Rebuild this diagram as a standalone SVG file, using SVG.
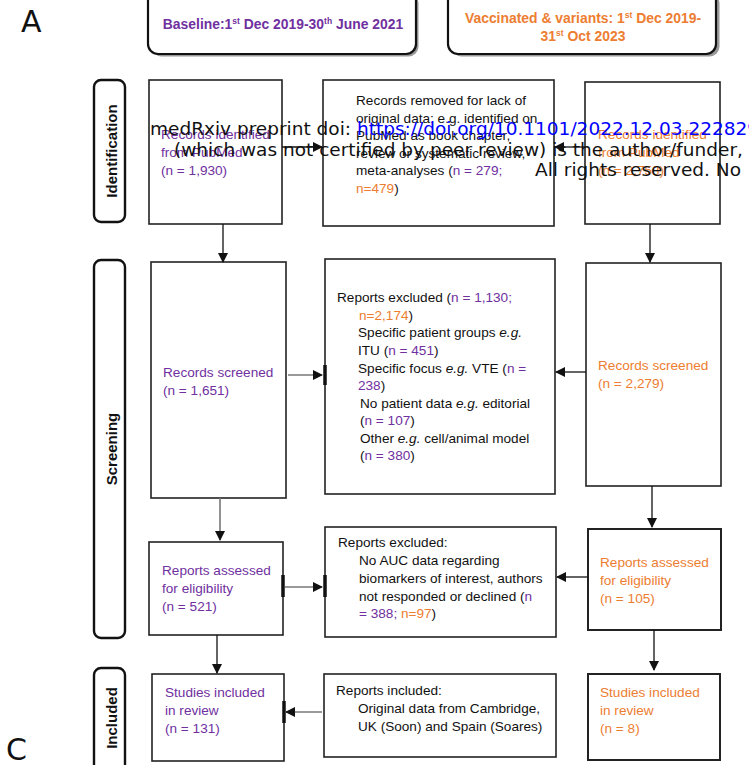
<svg xmlns="http://www.w3.org/2000/svg" width="749" height="765" viewBox="0 0 749 765">
<style>
text{font-family:"Liberation Sans",Arial,sans-serif;font-size:13.6px;fill:#111}
.p{fill:#7030A0}
.o{fill:#ED7D31}
.box{fill:#fff;stroke:#222;stroke-width:1.6}
.hdr{fill:#fff;stroke:#111;stroke-width:2.2}
.side{fill:#fff;stroke:#111;stroke-width:2.4}
.sidet{font-weight:bold;font-size:15px;fill:#111}
.hb{font-weight:bold;font-size:13.9px}
.wm{font-family:"DejaVu Sans",sans-serif;font-size:18.5px;fill:#111}
.big{font-family:"DejaVu Sans",sans-serif;font-size:30px;fill:#111}
.k{stroke:#111;stroke-width:1.3;fill:none}
.g{stroke:#777;stroke-width:1.6;fill:none}
.bar{stroke:#111;stroke-width:3.5}
</style>
<defs>
<marker id="ah" markerWidth="10" markerHeight="10" refX="9" refY="5" orient="auto" markerUnits="userSpaceOnUse">
<path d="M0,0 L10,5 L0,10 z" fill="#111"/>
</marker>
</defs>
<rect width="749" height="765" fill="#fff"/>
<text class="big" x="21" y="32">A</text>
<text class="big" x="6" y="760">C</text>

<g id="hdr-baseline">
<rect x="150" y="-8" width="267" height="63" rx="10" fill="#999" transform="translate(1.5,1.5)"/>
<rect class="hdr" x="148" y="-10" width="268" height="64" rx="10"/>
<text class="hb p" x="283" y="29" text-anchor="middle">Baseline:1<tspan font-size="8.5" dy="-5">st</tspan><tspan dy="5"> Dec 2019-30</tspan><tspan font-size="8.5" dy="-5">th</tspan><tspan dy="5"> June 2021</tspan></text>
</g>
<g id="hdr-vacc">
<rect x="450" y="-8" width="268" height="63" rx="10" fill="#999" transform="translate(1.5,1.5)"/>
<rect class="hdr" x="448" y="-10" width="268" height="64" rx="10"/>
<text class="hb o" x="583" y="23" text-anchor="middle">Vaccinated &amp; variants: 1<tspan font-size="8.5" dy="-5">st</tspan><tspan dy="5"> Dec 2019-</tspan></text>
<text class="hb o" x="583" y="41" text-anchor="middle">31<tspan font-size="8.5" dy="-5">st</tspan><tspan dy="5"> Oct 2023</tspan></text>
</g>

<g id="side-identification">
<rect class="side" x="94" y="80" width="31" height="142" rx="7"/>
<text class="sidet" transform="translate(116.5,151) rotate(-90)" text-anchor="middle">Identification</text>
</g>
<g id="side-screening">
<rect class="side" x="94" y="260" width="31" height="378" rx="7"/>
<text class="sidet" transform="translate(116.5,449) rotate(-90)" text-anchor="middle">Screening</text>
</g>
<g id="side-included">
<rect class="side" x="94" y="668" width="31" height="110" rx="7"/>
<text class="sidet" transform="translate(116.5,718) rotate(-90)" text-anchor="middle">Included</text>
</g>

<g id="id-left">
<rect class="box" x="149" y="80" width="133" height="144"/>
<text class="p" x="161" y="139">Records identified</text>
<text class="p" x="161" y="157">from PubMed</text>
<text class="p" x="161" y="175">(n = 1,930)</text>
</g>
<g id="id-mid">
<rect class="box" x="323" y="80" width="231" height="146"/>
<text x="356" y="105">Records removed for lack of</text>
<text x="356" y="123">original data; e.g. identified on</text>
<text x="356" y="140">PubMed as book chapter,</text>
<text x="356" y="158">review or systematic review,</text>
<text x="356" y="175">meta-analyses (<tspan class="p">n = 279;</tspan></text>
<text x="356" y="193"><tspan class="o">n=479</tspan>)</text>
</g>
<g id="id-right">
<rect class="box" x="585" y="82" width="135" height="142"/>
<text class="o" x="598" y="139">Records identified</text>
<text class="o" x="598" y="157">from PubMed</text>
<text class="o" x="598" y="175">(n = 2,758)</text>
</g>

<g id="scr-left">
<rect class="box" x="151" y="262" width="135" height="236"/>
<text class="p" x="163" y="377">Records screened</text>
<text class="p" x="163" y="395">(n = 1,651)</text>
</g>
<g id="scr-mid">
<rect class="box" x="325" y="259" width="230" height="235"/>
<text x="337" y="302">Reports excluded (<tspan class="p">n = 1,130;</tspan></text>
<text x="359" y="319.5"><tspan class="o">n=2,174</tspan>)</text>
<text x="358" y="337">Specific patient groups <tspan font-style="italic">e.g.</tspan></text>
<text x="358" y="355">ITU (<tspan class="p">n = 451</tspan>)</text>
<text x="358" y="372.5">Specific focus <tspan font-style="italic">e.g.</tspan> VTE (<tspan class="p">n =</tspan></text>
<text x="358" y="390"><tspan class="p">238</tspan>)</text>
<text x="360" y="407.5">No patient data <tspan font-style="italic">e.g.</tspan> editorial</text>
<text x="360" y="425">(<tspan class="p">n = 107</tspan>)</text>
<text x="360" y="442.5">Other <tspan font-style="italic">e.g.</tspan> cell/animal model</text>
<text x="360" y="460">(<tspan class="p">n = 380</tspan>)</text>
</g>
<g id="scr-right">
<rect class="box" x="586" y="263" width="135" height="223"/>
<text class="o" x="598" y="370">Records screened</text>
<text class="o" x="598" y="388">(n = 2,279)</text>
</g>

<g id="elig-left">
<rect class="box" x="149" y="542" width="134" height="93"/>
<text class="p" x="162" y="575">Reports assessed</text>
<text class="p" x="162" y="593">for eligibility</text>
<text class="p" x="162" y="611">(n = 521)</text>
</g>
<g id="elig-mid">
<rect class="box" x="325" y="527" width="231" height="110"/>
<text x="338" y="547">Reports excluded:</text>
<text x="359" y="565">No AUC data regarding</text>
<text x="359" y="583">biomarkers of interest, authors</text>
<text x="359" y="600.5">not responded or declined (<tspan class="p">n</tspan></text>
<text x="359" y="618"><tspan class="p">= 388;</tspan> <tspan class="o">n=97</tspan>)</text>
</g>
<g id="elig-right">
<rect class="box" x="588" y="529" width="133" height="101" style="stroke-width:2"/>
<text class="o" x="600" y="567">Reports assessed</text>
<text class="o" x="600" y="585">for eligibility</text>
<text class="o" x="600" y="603">(n = 105)</text>
</g>

<g id="inc-left">
<rect class="box" x="152" y="674" width="132" height="87"/>
<text class="p" x="165" y="697">Studies included</text>
<text class="p" x="165" y="715">in review</text>
<text class="p" x="165" y="733">(n = 131)</text>
</g>
<g id="inc-mid">
<rect class="box" x="324" y="674" width="232" height="83"/>
<text x="336" y="695">Reports included:</text>
<text x="358" y="713">Original data from Cambridge,</text>
<text x="358" y="731">UK (Soon) and Spain (Soares)</text>
</g>
<g id="inc-right">
<rect class="box" x="588" y="674" width="132" height="86" style="stroke-width:2"/>
<text class="o" x="600" y="697">Studies included</text>
<text class="o" x="600" y="715">in review</text>
<text class="o" x="600" y="733">(n = 8)</text>
</g>

<g id="connectors">
<line class="k" x1="282" y1="147" x2="322" y2="147" marker-end="url(#ah)"/>
<line class="k" x1="585" y1="147" x2="555" y2="147" marker-end="url(#ah)"/>
<line class="k" x1="223" y1="224" x2="223" y2="262" marker-end="url(#ah)"/>
<line class="k" x1="650" y1="224" x2="650" y2="262" marker-end="url(#ah)"/>
<line class="g" x1="288" y1="375" x2="322" y2="375" marker-end="url(#ah)"/>
<line class="bar" x1="325" y1="365" x2="325" y2="385"/>
<line class="k" x1="586" y1="372" x2="556" y2="372" marker-end="url(#ah)"/>
<line class="g" x1="220" y1="498" x2="220" y2="540" marker-end="url(#ah)"/>
<line class="k" x1="652" y1="486" x2="652" y2="527" marker-end="url(#ah)"/>
<line class="bar" x1="283" y1="575" x2="283" y2="597"/>
<line class="g" x1="285" y1="587" x2="322" y2="587" marker-end="url(#ah)"/>
<line class="bar" x1="325" y1="575" x2="325" y2="597"/>
<line class="k" x1="588" y1="577" x2="557" y2="577" marker-end="url(#ah)"/>
<line class="k" x1="217" y1="635" x2="217" y2="673" marker-end="url(#ah)"/>
<line class="k" x1="654" y1="630" x2="654" y2="670" marker-end="url(#ah)"/>
<line class="g" x1="322" y1="712" x2="286" y2="712" marker-end="url(#ah)"/>
<line class="bar" x1="284" y1="701" x2="284" y2="723"/>
</g>

<g id="watermark">
<text class="wm" x="150" y="135">medRxiv preprint doi: <tspan fill="#0000FF">https://doi.org/10.1101/2022.12.03.222829</tspan></text>
<text class="wm" x="174" y="156">(which was not certified by peer review) is the author/funder,</text>
<text class="wm" x="535" y="176">All rights reserved. No</text>
</g>
</svg>
